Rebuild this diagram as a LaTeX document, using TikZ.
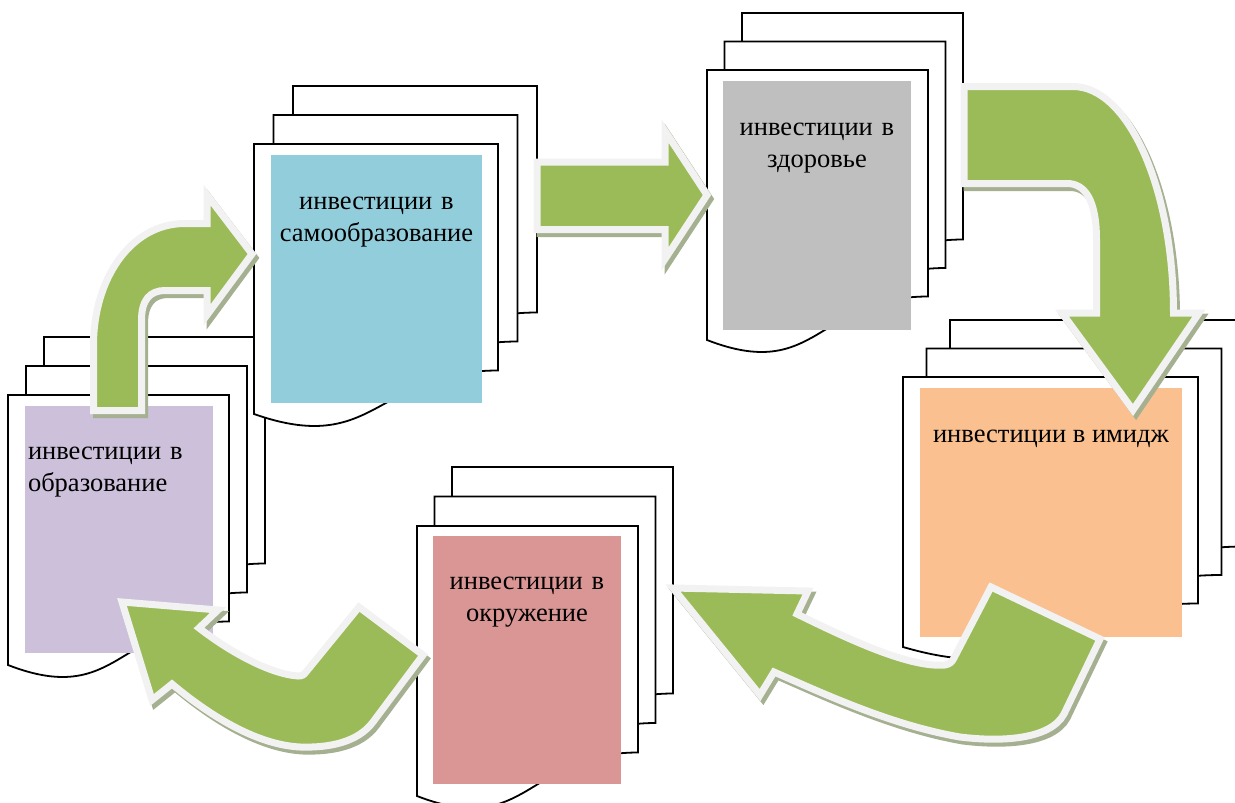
\documentclass[tikz,border=0pt]{standalone}
\usepackage{fontspec}
\setmainfont{Liberation Serif}
\usetikzlibrary{positioning,calc}

\definecolor{colobr}{HTML}{CCC0DA}
\definecolor{colsamo}{HTML}{92CDDC}
\definecolor{colzdor}{HTML}{BFBFBF}
\definecolor{colimidzh}{HTML}{FAC090}
\definecolor{colokr}{HTML}{D99694}
\definecolor{arrgreen}{HTML}{9BBB59}
\definecolor{arrborder}{HTML}{F2F2F2}
\definecolor{arrshade}{HTML}{A5B090}

\begin{document}
\begin{tikzpicture}[x=1pt,y=-1pt,
	page/.style={draw=black,fill=white,line width=1.8pt},
	box/.style={inner sep=0pt,minimum height=248pt},
	txt/.style={inner sep=0pt,font=\fontsize{26.5}{32}\selectfont},
	bigarrow/.style={fill=arrgreen,draw=arrborder,line width=7pt,line join=miter,
		preaction={fill=arrshade,draw=arrshade,line width=7pt,transform canvas={xshift=3pt,yshift=-4pt}}}]
		\useasboundingbox (0,0) rectangle (1235,803);
		% stacks of pages
		\foreach \sx/\sy/\w/\dx/\dy in {8/395/221/18/-29, 254/144/244/19.5/-29, 707/70/221/17.5/-28.5, 903/377/295/23.5/-28.5, 417/526/221/17.5/-29.5}{
			\foreach \k in {2,1,0}{
				\pgfmathsetmacro\px{\sx+\k*\dx}
				\pgfmathsetmacro\py{\sy+\k*\dy}
				\draw[page] (\px,\py) -- (\px+\w,\py) -- (\px+\w,\py+226.5)
					.. controls (\px+\w/2,\py+226.5) and (\px+\w/2,\py+313) .. (\px,\py+270) -- cycle;
			}
		}
		\node[box,fill=colobr,minimum width=188pt,minimum height=247pt] (obr) at (119,529.5) {};
		\node[box,fill=colsamo,minimum width=211pt] (samo) at (376.5,279) {};
		\node[box,fill=colzdor,minimum width=188pt,minimum height=249pt] (zdor) at (817,205.5) {};
		\node[box,fill=colimidzh,minimum width=262pt,minimum height=249pt] (imidzh) at (1051,512.5) {};
		\node[box,fill=colokr,minimum width=188pt] (okr) at (527,660) {};
		\node[txt,text width=185pt,align=left,anchor=base west] (obrt) at ([xshift=3pt,yshift=-54pt]obr.north west) {инвестиции в\\образование};
		\node[txt,text width=211pt,align=center,anchor=base] (samot) at ([yshift=-55pt]samo.north) {инвестиции в\\самообразование};
		\node[txt,text width=188pt,align=center,anchor=base] (zdort) at ([yshift=-55pt]zdor.north) {инвестиции в\\здоровье};
		\node[txt,anchor=base] (imidzht) at ([yshift=-55pt]imidzh.north) {инвестиции в имидж};
		\node[txt,text width=188pt,align=center,anchor=base] (okrt) at ([yshift=-54pt]okr.north) {инвестиции в\\окружение};
		% arrows
		\draw[bigarrow] (93.5,410.5) -- (93.5,345) .. controls (93.5,280) and (130,223.5) .. (185,223.5) -- (207,223.5) -- (207,195) -- (252,254) -- (207,315) -- (207,290.5) -- (165,290.5) .. controls (150,290.5) and (141.5,300) .. (141.5,320) -- (141.5,410.5) -- cycle;
		\draw[bigarrow] (537,162) -- (665,162) -- (665,131) -- (707,195) -- (665,259) -- (665,229.5) -- (537,229.5) -- cycle;
		\draw[bigarrow] (964,86.5) -- (1073,86.5) .. controls (1128,86.5) and (1173.5,188) .. (1173.5,313) -- (1199,313) -- (1133,410) -- (1062,313) -- (1096.5,313) -- (1096.5,240) .. controls (1096.5,200) and (1085,183.5) .. (1067,183.5) -- (964,183.5) -- cycle;
		\draw[bigarrow] (991,587) -- (1100,639) -- (1064,714) .. controls (1050,740) and (1000,742) .. (960,737) .. controls (890,725) and (820,692) .. (774,672) -- (760,695) -- (673,588) -- (808,591) -- (797,614) .. controls (850,640) and (910,668) .. (945,665) .. controls (950,664) and (952,662) .. (954,658) -- cycle;
		\draw[bigarrow] (359,607) -- (423,655) -- (373,722) .. controls (358,742) and (330,748) .. (300,747) .. controls (260,745) and (215,720) .. (172,684) -- (152,700) -- (122,602) -- (218,610) -- (199,628) .. controls (230,652) and (270,674) .. (298,676) .. controls (302,676) and (304,675) .. (306,672) -- cycle;
	\end{tikzpicture}
\end{document}
